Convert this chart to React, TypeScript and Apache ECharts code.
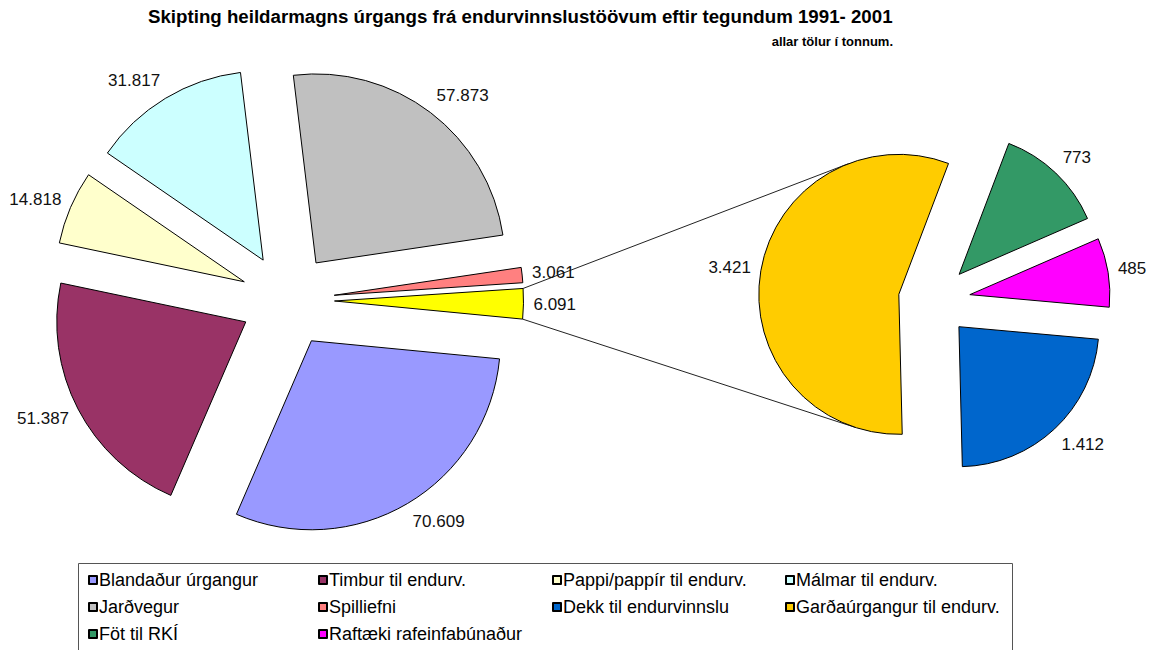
import React, { useEffect, useRef } from "react";
import * as echarts from "echarts";

// ---- Data ----
const mainCategories = [
  "Blandaður úrgangur",
  "Timbur til endurv.",
  "Pappi/pappír til endurv.",
  "Málmar til endurv.",
  "Jarðvegur",
  "Spilliefni",
  "Annað",
];
const mainValues = [70609, 51387, 14818, 31817, 57873, 3061, 6091];
const mainColors = ["#9999FF", "#993366", "#FFFFCC", "#CCFFFF", "#C0C0C0", "#FF8080", "#FFFF00"];

const subCategories = [
  "Garðaúrgangur til endurv.",
  "Föt til RKÍ",
  "Raftæki rafeinfabúnaður",
  "Dekk til endurvinnslu",
];
const subValues = [3421, 773, 485, 1412];
const subColors = ["#FFCC00", "#339966", "#FF00FF", "#0066CC"];

const legendOrder = [
  "Blandaður úrgangur",
  "Timbur til endurv.",
  "Pappi/pappír til endurv.",
  "Málmar til endurv.",
  "Jarðvegur",
  "Spilliefni",
  "Dekk til endurvinnslu",
  "Garðaúrgangur til endurv.",
  "Föt til RKÍ",
  "Raftæki rafeinfabúnaður",
];

const titleText = "Skipting heildarmagns úrgangs frá endurvinnslustöövum eftir tegundum 1991- 2001";
const subtitleText = "allar tölur í tonnum.";

// ---- Layout ----
const FONT = "'Liberation Sans', Arial, sans-serif";
const LEFT = { cx: 287.5, cy: 300.3, r: 189, offset: 47, startAngle: -5.5 };
const RIGHT = { cx: 934.3, cy: 300.4, r: 140, offset: 36, startAngle: -88.6 };
const LEGEND_COLS = [88, 318, 552, 785];
const LEGEND_ROWS = [580, 607, 634];
const LABEL_SIZE = 17;

const fmt = (v: number) => String(v).replace(/\B(?=(\d{3})+(?!\d))/g, ".");

function sliceGeom(values: number[], idx: number, pie: typeof LEFT) {
  const sum = values.reduce((a, b) => a + b, 0);
  const before = values.slice(0, idx).reduce((a, b) => a + b, 0);
  const s = ((-pie.startAngle + (360 * before) / sum) * Math.PI) / 180;
  const e = s + (((360 * values[idx]) / sum) * Math.PI) / 180;
  const m = (s + e) / 2;
  const ox = pie.cx + pie.offset * Math.cos(m);
  const oy = pie.cy + pie.offset * Math.sin(m);
  return { s, e, m, ox, oy };
}

function tangent(px: number, py: number, gx: number, gy: number, r: number, sign: number) {
  const dx = px - gx;
  const dy = py - gy;
  const D = Math.sqrt(dx * dx + dy * dy);
  const phi = Math.atan2(dy, dx);
  const a = Math.acos(r / D);
  const t = phi + sign * a;
  return [gx + r * Math.cos(t), gy + r * Math.sin(t)];
}

// vertical nudge of a label like Excel's (box corner next to the slice)
const labelNudge = (values: number[], pie: typeof LEFT) => (params: any) => {
  const { m } = sliceGeom(values, params.dataIndex, pie);
  return { dy: 11 * Math.sin(m) };
};

export default function App() {
  const ref = useRef<HTMLDivElement>(null);
  useEffect(() => {
    if (!ref.current) return;
    const chart = echarts.init(ref.current, undefined, { renderer: "svg" });

    // connector lines between "other" slice and secondary pie
    const other = sliceGeom(mainValues, mainValues.length - 1, LEFT);
    const p1 = [other.ox + LEFT.r * Math.cos(other.s), other.oy + LEFT.r * Math.sin(other.s)];
    const p2 = [other.ox + LEFT.r * Math.cos(other.e), other.oy + LEFT.r * Math.sin(other.e)];
    const g = sliceGeom(subValues, 0, RIGHT);
    const t1 = tangent(p1[0], p1[1], g.ox, g.oy, RIGHT.r, 1);
    const t2 = tangent(p2[0], p2[1], g.ox, g.oy, RIGHT.r, -1);

    const common = {
      type: "pie",
      clockwise: true,
      selectedMode: "multiple",
      avoidLabelOverlap: false,
      silent: true,
      itemStyle: { borderColor: "#000", borderWidth: 1 },
      select: { itemStyle: { borderColor: "#000", borderWidth: 1 } },
      emphasis: { disabled: true },
      label: {
        show: true,
        position: "outside",
        formatter: (p: any) => fmt(p.value),
        color: "#111",
        fontSize: LABEL_SIZE,
        fontFamily: FONT,
        distanceToLabelLine: 0,
      },
      labelLine: { show: false, length: 10, length2: 0 },
    };

    const legends = legendOrder.map((name, i) => ({
      data: [name],
      left: LEGEND_COLS[i % 4],
      top: LEGEND_ROWS[Math.floor(i / 4)] - 10,
      padding: 0,
      icon: "rect",
      itemWidth: 8,
      itemHeight: 8,
      selectedMode: false,
      textStyle: { fontSize: 18, fontFamily: FONT, color: "#000", lineHeight: 20, padding: [0, 0, 0, -3] },
    }));

    chart.setOption({
      animation: false,
      backgroundColor: "#fff",
      title: [
        {
          text: titleText,
          left: 148,
          top: 7,
          padding: 0,
          textStyle: { fontSize: 18.7, fontWeight: "bold", fontFamily: FONT, color: "#000" },
        },
        {
          text: subtitleText,
          right: 259,
          top: 35,
          padding: 0,
          textStyle: { fontSize: 13, fontWeight: "bold", fontFamily: FONT, color: "#000" },
        },
      ],
      legend: legends,
      graphic: [
        {
          type: "rect",
          z: 0,
          shape: { x: 78.5, y: 563.5, width: 934, height: 120 },
          style: { fill: "none", stroke: "#555", lineWidth: 1 },
        },
        {
          type: "line",
          z: 0,
          shape: { x1: p1[0], y1: p1[1], x2: t1[0], y2: t1[1] },
          style: { stroke: "#222", lineWidth: 1 },
        },
        {
          type: "line",
          z: 0,
          shape: { x1: p2[0], y1: p2[1], x2: t2[0], y2: t2[1] },
          style: { stroke: "#222", lineWidth: 1 },
        },
      ],
      series: [
        {
          ...common,
          name: "main",
          center: [LEFT.cx, LEFT.cy],
          radius: LEFT.r,
          startAngle: LEFT.startAngle,
          selectedOffset: LEFT.offset,
          labelLayout: labelNudge(mainValues, LEFT),
          data: mainCategories.map((n, i) => ({
            name: n,
            value: mainValues[i],
            selected: true,
            itemStyle: { color: mainColors[i] },
          })),
        },
        {
          ...common,
          name: "sub",
          center: [RIGHT.cx, RIGHT.cy],
          radius: RIGHT.r,
          startAngle: RIGHT.startAngle,
          selectedOffset: RIGHT.offset,
          labelLayout: labelNudge(subValues, RIGHT),
          data: subCategories.map((n, i) => ({
            name: n,
            value: subValues[i],
            selected: true,
            itemStyle: { color: subColors[i] },
          })),
        },
      ],
    });
    return () => chart.dispose();
  }, []);
  return (
    <div
      ref={ref}
      style={{ position: "fixed", left: 0, top: 0, width: 1152, height: 650, background: "#fff" }}
    />
  );
}
